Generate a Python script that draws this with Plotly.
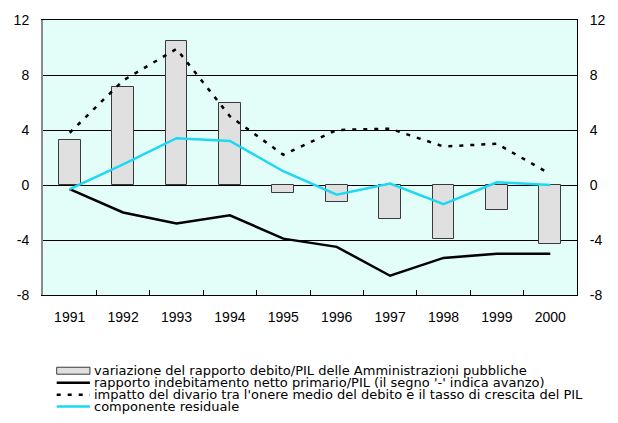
import plotly.graph_objects as go

# Data (percentage points of GDP)
years = ["1991", "1992", "1993", "1994", "1995", "1996", "1997", "1998", "1999", "2000"]
var_debito = [3.3, 7.1, 10.5, 6.0, -0.6, -1.2, -2.5, -3.9, -1.8, -4.3]
indebitamento_primario = [-0.3, -2.0, -2.8, -2.2, -3.9, -4.5, -6.6, -5.3, -5.0, -5.0]
impatto_divario = [3.8, 7.6, 9.9, 5.0, 2.2, 4.0, 4.1, 2.8, 3.0, 0.8]
componente_residuale = [-0.3, 1.5, 3.4, 3.2, 1.0, -0.7, 0.1, -1.4, 0.2, 0.0]

y_ticks = [-8, -4, 0, 4, 8, 12]

legend_labels = [
    "variazione del rapporto debito/PIL delle Amministrazioni pubbliche",
    "rapporto indebitamento netto primario/PIL (il segno '-' indica avanzo)",
    "impatto del divario tra l'onere medio del debito e il tasso di crescita del PIL",
    "componente residuale",
]

W, H = 618, 423
ML, MR, MT, MB = 43, 29, 19, 128
PLOT_W = W - ML - MR
PLOT_H = H - MT - MB

FONT = "Liberation Sans, Arial, sans-serif"
LEGEND_FONT = "DejaVu Sans, Arial, sans-serif"
BG = "#E3FDF9"
BAR_FILL = "#E0E0E0"
BAR_LINE = "#3A3A3A"
CYAN = "#1ED8F2"
DOT = "4px,7px"


def px(xpix):
    return (xpix - ML) / PLOT_W


def py(ypix):
    return (H - MB - ypix) / PLOT_H


fig = go.Figure()

fig.add_trace(go.Bar(
    x=years, y=var_debito, width=0.41,
    marker=dict(color=BAR_FILL, line=dict(color=BAR_LINE, width=1)),
    showlegend=False,
))
fig.add_trace(go.Scatter(
    x=years, y=indebitamento_primario, mode="lines",
    line=dict(color="black", width=2.5), showlegend=False,
))
fig.add_trace(go.Scatter(
    x=years, y=impatto_divario, mode="lines",
    line=dict(color="black", width=2.5, dash=DOT), showlegend=False,
))
fig.add_trace(go.Scatter(
    x=years, y=componente_residuale, mode="lines", yaxis="y2",
    line=dict(color=CYAN, width=2.5), showlegend=False,
))

axis_font = dict(family=FONT, size=14, color="black")

fig.update_layout(
    width=W, height=H,
    margin=dict(l=ML, r=MR, t=MT, b=MB, pad=0),
    paper_bgcolor="white",
    plot_bgcolor=BG,
    bargap=0,
    xaxis=dict(
        type="category",
        tickson="boundaries",
        ticks="inside", ticklen=5, tickcolor="black", tickwidth=1,
        showline=True, linecolor="black", linewidth=1, mirror=True,
        showgrid=False,
        tickfont=axis_font,
        ticklabelstandoff=9,
    ),
    yaxis=dict(
        range=[-8, 12], tickvals=y_ticks, ticktext=[str(v) for v in y_ticks],
        showgrid=True, gridcolor="black", gridwidth=1,
        zeroline=True, zerolinecolor="black", zerolinewidth=1,
        showline=True, linecolor="#8A8A8A", linewidth=2,
        ticks="", tickfont=axis_font, ticklabelstandoff=9,
    ),
    yaxis2=dict(
        range=[-8, 12], tickvals=y_ticks, ticktext=[str(v) for v in y_ticks],
        overlaying="y", side="right", anchor="x",
        showgrid=False, zeroline=False,
        showline=True, linecolor="black", linewidth=1,
        ticks="", tickfont=axis_font, ticklabelstandoff=9,
    ),
)

# Legend drawn below the chart
sym_x0, sym_x1, text_x = 57, 91, 93
rows = [371, 383, 395, 407]

fig.add_shape(type="rect", xref="paper", yref="paper",
              x0=px(sym_x0), x1=px(sym_x1), y0=py(rows[0] + 3.5), y1=py(rows[0] - 3.5),
              fillcolor=BAR_FILL, line=dict(color=BAR_LINE, width=1))
fig.add_shape(type="line", xref="paper", yref="paper",
              x0=px(sym_x0), x1=px(sym_x1), y0=py(rows[1]), y1=py(rows[1]),
              line=dict(color="black", width=2.5))
fig.add_shape(type="line", xref="paper", yref="paper",
              x0=px(sym_x0), x1=px(sym_x1), y0=py(rows[2]), y1=py(rows[2]),
              line=dict(color="black", width=2.5, dash=DOT))
fig.add_shape(type="line", xref="paper", yref="paper",
              x0=px(sym_x0), x1=px(sym_x1), y0=py(rows[3]), y1=py(rows[3]),
              line=dict(color=CYAN, width=2.5))

for label, r in zip(legend_labels, rows):
    fig.add_annotation(
        text=label, xref="paper", yref="paper",
        x=px(text_x), y=py(r), xanchor="left", yanchor="middle",
        showarrow=False, font=dict(family=LEGEND_FONT, size=13, color="black"),
    )

fig.write_html("out.html")
